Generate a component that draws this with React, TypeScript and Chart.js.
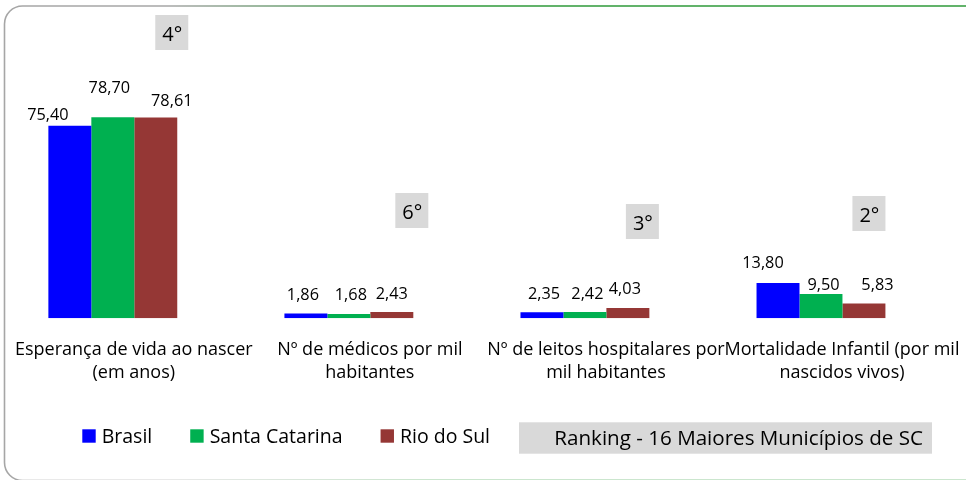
import React, { useEffect, useRef } from "react";
import { Chart, registerables } from "chart.js";

Chart.register(...registerables);

// ---------- data ----------
const categories: string[][] = [
  ["Esperança de vida ao nascer", "(em anos)"],
  ["Nº de médicos por mil", "habitantes"],
  ["Nº de leitos hospitalares por", "mil habitantes"],
  ["Mortalidade Infantil (por mil", "nascidos vivos)"],
];
const seriesNames = ["Brasil", "Santa Catarina", "Rio do Sul"];
const brasil = [75.4, 1.86, 2.35, 13.8];
const santaCatarina = [78.7, 1.68, 2.42, 9.5];
const rioDoSul = [78.61, 2.43, 4.03, 5.83];
const rankings = ["4°", "6°", "3°", "2°"];
const rankingNote = "Ranking - 16 Maiores Municípios de SC";

// ---------- styles ----------
const COLORS = ["#0000FF", "#00B050", "#953735"];
const FONT = '"Open Sans", "Noto Sans", sans-serif';
const SHIFT = 6; // canvas starts 6px left of the page edge
const CANVAS_W = 972;
const CANVAS_H = 480;
// per-point label nudges [dx, dy] (label centre relative to bar top centre)
const LABEL_NUDGE: number[][][] = [
  [[-22, -12], [-3, -20], [2, -19], [-15, -21]],
  [[-3.5, -30], [2, -19.5], [2.5, -19.5], [2.5, -10]],
  [[16, -18], [0, -19], [-3, -19.5], [13.5, -19]],
];
// rank boxes: left edge relative to the Rio do Sul bar centre, top in px
const RANK_BOX = [
  { dx: -0.5, top: 15 },
  { dx: 3.5, top: 193 },
  { dx: -2, top: 204 },
  { dx: -11.5, top: 196 },
];

const fmt = (v: number) => v.toFixed(2).replace(".", ",");

const framePlugin = {
  id: "frame",
  beforeDraw(chart: any) {
    const ctx = chart.ctx as CanvasRenderingContext2D;
    ctx.save();
    const x0 = 4.5 + SHIFT;
    const y0 = 6;
    const x1 = CANVAS_W + 30;
    const y1 = 480.5;
    const r = 18;
    const g = ctx.createLinearGradient(0, 0, CANVAS_W, 0);
    g.addColorStop(0, "#a6a6a6");
    g.addColorStop(0.18, "#a6a6a6");
    g.addColorStop(0.45, "#2f9a3a");
    g.addColorStop(1, "#2f9a3a");
    ctx.strokeStyle = g;
    ctx.lineWidth = 1.6;
    ctx.beginPath();
    ctx.moveTo(x1, y0);
    ctx.lineTo(x0 + r, y0);
    ctx.arcTo(x0, y0, x0, y0 + r, r);
    ctx.lineTo(x0, y1 - r);
    ctx.arcTo(x0, y1, x0 + r, y1, r);
    ctx.lineTo(x1, y1);
    ctx.stroke();
    ctx.restore();
  },
};

const dataLabelPlugin = {
  id: "valueLabels",
  afterDatasetsDraw(chart: any) {
    const ctx = chart.ctx as CanvasRenderingContext2D;
    ctx.save();
    ctx.font = `16.3px ${FONT}`;
    ctx.fillStyle = "#000";
    ctx.textAlign = "center";
    ctx.textBaseline = "alphabetic";
    chart.data.datasets.forEach((ds: any, i: number) => {
      const meta = chart.getDatasetMeta(i);
      meta.data.forEach((bar: any, j: number) => {
        const [dx, dy] = LABEL_NUDGE[i][j];
        ctx.fillText(fmt(ds.data[j]), bar.x + dx, bar.y + dy + 6);
      });
    });
    ctx.restore();
  },
};

const rankPlugin = {
  id: "ranks",
  afterDraw(chart: any) {
    const ctx = chart.ctx as CanvasRenderingContext2D;
    const meta = chart.getDatasetMeta(2);
    ctx.save();
    ctx.font = `20px ${FONT}`;
    ctx.textAlign = "center";
    ctx.textBaseline = "alphabetic";
    rankings.forEach((txt, j) => {
      const bar = meta.data[j];
      const left = bar.x + RANK_BOX[j].dx;
      const top = RANK_BOX[j].top;
      ctx.fillStyle = "#d9d9d9";
      ctx.fillRect(left, top, 33, 35);
      ctx.fillStyle = "#000";
      ctx.fillText(txt, left + 17, top + 25.5);
    });
    ctx.restore();
  },
};

const legendPlugin = {
  id: "bottomLegend",
  afterDraw(chart: any) {
    const ctx = chart.ctx as CanvasRenderingContext2D;
    ctx.save();
    ctx.font = `19.5px ${FONT}`;
    ctx.textBaseline = "alphabetic";
    ctx.textAlign = "left";
    let x = 82.3 + SHIFT;
    chart.data.datasets.forEach((ds: any) => {
      ctx.fillStyle = ds.backgroundColor;
      ctx.fillRect(x, 429.3, 13.4, 13.4);
      ctx.fillStyle = "#000";
      ctx.fillText(ds.label, x + 19.4, 443.3);
      x += 19.4 + ctx.measureText(ds.label).width + 38;
    });
    // ranking note box
    const bx = 519 + SHIFT;
    ctx.fillStyle = "#d9d9d9";
    ctx.fillRect(bx, 422.3, 413, 31.4);
    ctx.fillStyle = "#000";
    ctx.font = `20.6px ${FONT}`;
    ctx.textAlign = "right";
    ctx.fillText(rankingNote, bx + 404, 444.8);
    ctx.restore();
  },
};

export default function App() {
  const ref = useRef<HTMLCanvasElement | null>(null);
  useEffect(() => {
    if (!ref.current) return;
    const series = [brasil, santaCatarina, rioDoSul];
    const chart = new Chart(ref.current, {
      type: "bar",
      data: {
        labels: categories,
        datasets: series.map((d, i) => ({
          label: seriesNames[i],
          data: d,
          backgroundColor: COLORS[i],
          borderWidth: 0,
          categoryPercentage: 0.546,
          barPercentage: 1,
        })),
      },
      options: {
        responsive: false,
        animation: false,
        events: [],
        layout: { padding: { left: 0, right: 27, top: 63, bottom: 96 } },
        plugins: {
          legend: { display: false },
          tooltip: { enabled: false },
        },
        scales: {
          x: {
            grid: { display: false, drawTicks: true, tickLength: 20 },
            border: { display: false },
            ticks: {
              padding: 0,
              labelOffset: 21,
              maxRotation: 0,
              minRotation: 0,
              autoSkip: false,
              color: "#000",
              font: { family: FONT, size: 18, lineHeight: 1.27 },
            },
          },
          y: { display: false, min: 0, max: 100 },
        },
      },
      plugins: [framePlugin, dataLabelPlugin, rankPlugin, legendPlugin],
    });
    return () => chart.destroy();
  }, []);
  return (
    <div style={{ position: "fixed", left: -SHIFT, top: 0, width: CANVAS_W, height: CANVAS_H, background: "#fff" }}>
      <canvas ref={ref} width={CANVAS_W} height={CANVAS_H} style={{ display: "block" }} />
    </div>
  );
}
